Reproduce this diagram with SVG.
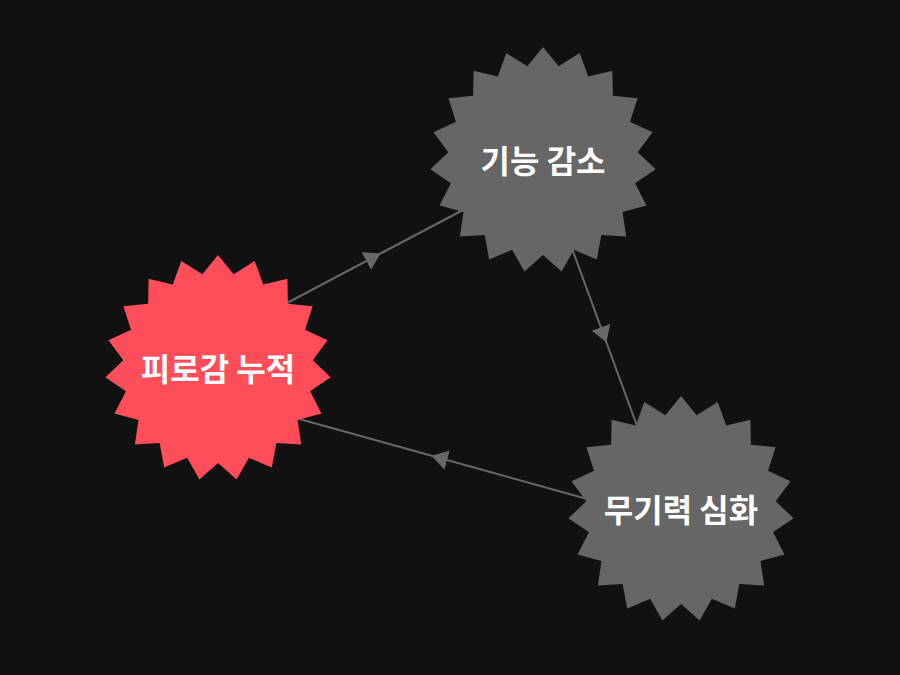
<svg xmlns="http://www.w3.org/2000/svg" xmlns:xlink="http://www.w3.org/1999/xlink" width="900" height="675" viewBox="0 0 900 675">
  <style>
    .edge { fill: none; stroke: #686868; stroke-width: 2; marker-mid: url(#arrow); }
    .label { font-family: "Noto Sans CJK KR", "Noto Sans", sans-serif; font-weight: 700; font-size: 32px; fill: #ffffff; text-anchor: middle; dominant-baseline: central; }
  </style>
  <defs>
    <marker id="arrow" markerUnits="userSpaceOnUse" viewBox="0 0 16 20" markerWidth="16" markerHeight="20" refX="16" refY="10" orient="auto">
      <path d="M0,0 L16,10 L0,20 Z" fill="#686868"/>
    </marker>
    <polygon id="star" points="0,-113 15.64,-93.70 36.69,-106.88 45.22,-83.55 69.41,-89.17 69.89,-64.34 94.60,-61.81 87.01,-38.16 109.54,-27.74 94.68,-7.85 112.61,9.33 92.09,23.32 103.49,45.39 79.53,51.96 83.14,76.53 58.35,74.97 53.78,99.38 30.85,89.85 18.60,111.46 0,95 -18.60,111.46 -30.85,89.85 -53.78,99.38 -58.35,74.97 -83.14,76.53 -79.53,51.96 -103.49,45.39 -92.09,23.32 -112.61,9.33 -94.68,-7.85 -109.54,-27.74 -87.01,-38.16 -94.60,-61.81 -69.89,-64.34 -69.41,-89.17 -45.22,-83.55 -36.69,-106.88 -15.64,-93.70"/>
  </defs>
  <rect x="0" y="0" width="900" height="675" fill="#111111"/>
  <g id="connectors">
    <polyline class="edge" points="287,303 380.5,253.5 463,210"/>
    <polyline class="edge" points="572.3,249.3 606.4,342.3 636.7,425"/>
    <polyline class="edge" points="588.3,499.3 431.7,455.8 296.7,418.3"/>
  </g>
  <g id="node-fatigue">
    <use xlink:href="#star" href="#star" x="218" y="368" fill="#ff4d5a"/>
    <text class="label" x="218" y="367">피로감 누적</text>
  </g>
  <g id="node-function">
    <use xlink:href="#star" href="#star" x="543" y="160" fill="#666666"/>
    <text class="label" x="543" y="159">기능 감소</text>
  </g>
  <g id="node-lethargy">
    <use xlink:href="#star" href="#star" x="681" y="509" fill="#666666"/>
    <text class="label" x="681" y="508">무기력 심화</text>
  </g>
</svg>
